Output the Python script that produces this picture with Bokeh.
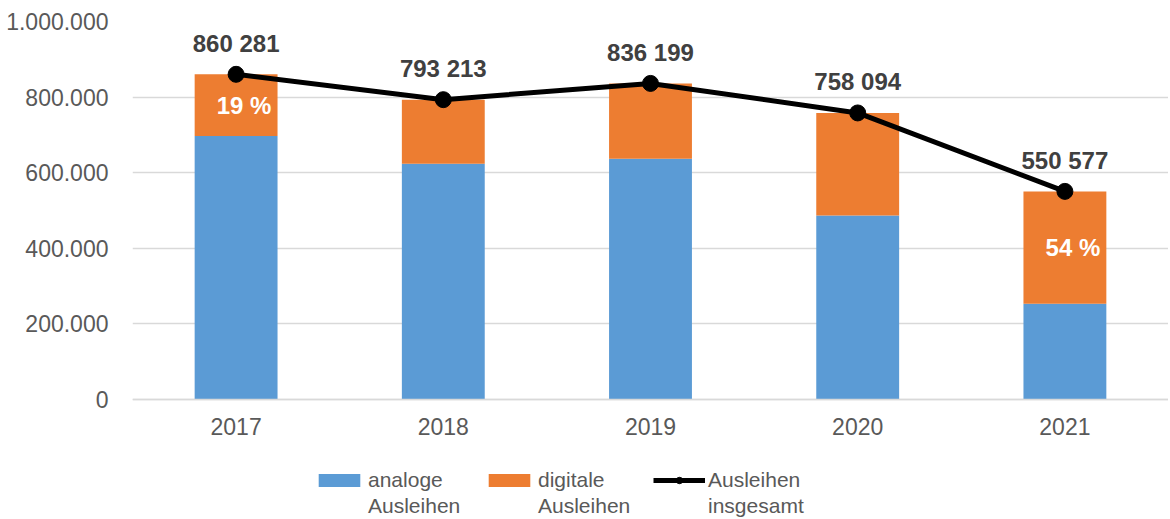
from bokeh.plotting import figure
from bokeh.models import ColumnDataSource, CustomJSTickFormatter, Legend, LegendItem, Range1d, FactorRange
from bokeh.core.properties import value
from bokeh.embed import file_html
from bokeh.resources import INLINE

years = ["2017", "2018", "2019", "2020", "2021"]
analog = [697000, 624000, 637000, 487000, 253000]
total = [860281, 793213, 836199, 758094, 550577]
total_labels = ["860 281", "793 213", "836 199", "758 094", "550 577"]
pct_labels = ["19 %", "", "", "", "54 %"]
legend_line1 = ["analoge", "digitale", "Ausleihen"]
legend_line2 = ["Ausleihen", "Ausleihen", "insgesamt"]

digital = [t - a for t, a in zip(total, analog)]
pct_y = [a + d / 2 for a, d in zip(analog, digital)]

src = ColumnDataSource(dict(year=years, analog=analog, digital=digital, total=total,
                            tlab=total_labels, plab=pct_labels, py=pct_y))

FONT = "Liberation Sans"
BLUE = "#5b9bd5"
ORANGE = "#ed7d31"
GRAY = "#595959"

FRAME_H = 498
PLOT_H = 378  # pixels between 0 and 1.000.000
y_min = -(FRAME_H - PLOT_H) / PLOT_H * 1000000

p = figure(x_range=FactorRange(*years, range_padding=0), y_range=Range1d(y_min, 1000000),
           frame_width=1036, frame_height=FRAME_H, output_backend="svg", toolbar_location=None,
           min_border_left=132, min_border_top=21, min_border_right=0, min_border_bottom=0)
p.outline_line_color = None
p.background_fill_color = "white"

vb = p.vbar_stack(["analog", "digital"], x="year", width=0.4, source=src,
                  color=[BLUE, ORANGE], line_color=None)
ln = p.line(x="year", y="total", source=src, line_color="black", line_width=5)
sc = p.scatter(x="year", y="total", source=src, size=16, color="black")
blank = p.scatter(x=[], y=[], fill_alpha=0, line_alpha=0)

p.text(x="year", y="total", text="tlab", source=src, y_offset=-31,
       text_align="center", text_baseline="middle", text_font=value(FONT),
       text_font_size="24px", text_font_style="bold", text_color="#404040")
p.text(x="year", y="py", text="plab", source=src, x_offset=8,
       text_align="center", text_baseline="middle", text_font=value(FONT),
       text_font_size="24px", text_font_style="bold", text_color="white")

p.yaxis.ticker = [0, 200000, 400000, 600000, 800000, 1000000]
p.yaxis.formatter = CustomJSTickFormatter(code="""
return tick.toFixed(0).replace(/\\B(?=(\\d{3})+(?!\\d))/g, ".");
""")
p.yaxis.axis_line_color = None
p.yaxis.major_tick_line_color = None
p.yaxis.minor_tick_line_color = None
p.yaxis.major_label_text_font = FONT
p.yaxis.major_label_text_font_size = "23px"
p.yaxis.major_label_text_color = GRAY
p.yaxis.major_label_standoff = 18

p.xaxis.fixed_location = 0
p.xaxis.axis_line_color = "#d9d9d9"
p.xaxis.axis_line_width = 1.5
p.xaxis.major_tick_line_color = None
p.xaxis.minor_tick_line_color = None
p.xaxis.major_label_text_font = FONT
p.xaxis.major_label_text_font_size = "23px"
p.xaxis.major_label_text_color = GRAY
p.xaxis.major_label_standoff = 12

p.xgrid.grid_line_color = None
p.ygrid.grid_line_color = "#d9d9d9"
p.ygrid.grid_line_width = 1.5

common = dict(orientation="horizontal",
              label_text_font=FONT, label_text_font_size="21px", label_text_color=GRAY,
              label_text_line_height=1.0, label_height=27, label_width=93,
              glyph_width=52, glyph_height=16, label_standoff=3, spacing=22,
              border_line_color=None, background_fill_alpha=0, padding=0, margin=0)

legend1 = Legend(items=[
    LegendItem(label=legend_line1[0], renderers=[vb[0]]),
    LegendItem(label=legend_line1[1], renderers=[vb[1]]),
    LegendItem(label=legend_line1[2], renderers=[ln, sc]),
], location=(181, 26), **common)
legend2 = Legend(items=[
    LegendItem(label=legend_line2[0], renderers=[blank]),
    LegendItem(label=legend_line2[1], renderers=[blank]),
    LegendItem(label=legend_line2[2], renderers=[blank]),
], location=(181, 0), **common)
p.add_layout(legend1)
p.add_layout(legend2)

with open("out.html", "w") as f:
    f.write(file_html(p, INLINE))
